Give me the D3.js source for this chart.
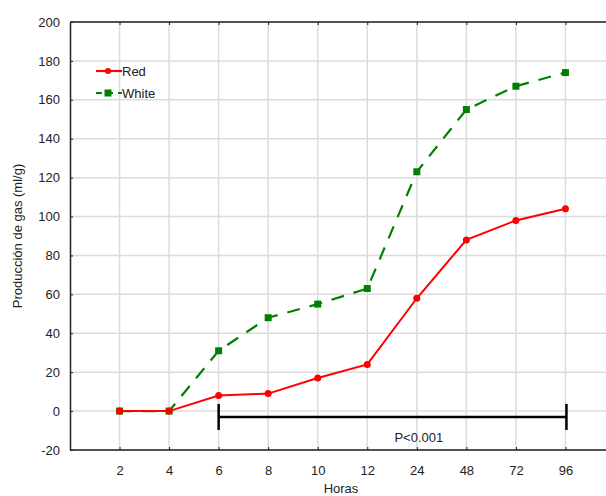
<!DOCTYPE html>
<html>
<head>
<meta charset="utf-8">
<script src="https://cdn.jsdelivr.net/npm/d3@7"></script>
<style>
  body { margin: 0; background: #fff; }
  text { font-family: "Liberation Sans", Arial, sans-serif; fill: #222; }
</style>
</head>
<body>
<div id="chart"></div>
<script>
// Data
const hours = ["2", "4", "6", "8", "10", "12", "24", "48", "72", "96"];
const redValues = [0, 0, 8, 9, 17, 24, 58, 88, 98, 104];
const whiteValues = [0, 0, 31, 48, 55, 63, 123, 155, 167, 174];
const yTicks = [-20, 0, 20, 40, 60, 80, 100, 120, 140, 160, 180, 200];
const bracket = { from: "6", to: "96", level: -3, label: "P<0.001", labelAt: "24" };

// Dimensions
const W = 606, H = 496;
const margin = { top: 22, left: 70, bottom: 46 };

const svg = d3.select("#chart")
    .append("svg")
    .attr("width", W)
    .attr("height", H);

// Scales
const x = d3.scalePoint()
    .domain(hours)
    .range([margin.left, margin.left + 545])
    .padding(1);

const y = d3.scaleLinear()
    .domain([-20, 200])
    .range([H - margin.bottom, margin.top]);

// Grid
svg.append("g")
    .selectAll("line")
    .data(yTicks)
    .join("line")
    .attr("x1", margin.left)
    .attr("x2", W)
    .attr("y1", d => y(d))
    .attr("y2", d => y(d))
    .attr("stroke", "#dcdcdc")
    .attr("stroke-width", 1.5);

svg.append("g")
    .selectAll("line")
    .data(hours)
    .join("line")
    .attr("x1", d => x(d))
    .attr("x2", d => x(d))
    .attr("y1", y(200))
    .attr("y2", y(-20))
    .attr("stroke", "#dcdcdc")
    .attr("stroke-width", 1.5);

// Axes
const yAxis = svg.append("g")
    .attr("transform", `translate(${margin.left},0)`)
    .call(d3.axisLeft(y).tickValues(yTicks).tickFormat(d => String(d))
        .tickSizeInner(-3).tickSizeOuter(0).tickPadding(10));
yAxis.select(".domain").attr("stroke", "#222").attr("stroke-width", 1.5);
yAxis.selectAll("text").style("font-size", "13px");
yAxis.selectAll(".tick line").attr("stroke", "#222");

const xAxis = svg.append("g")
    .attr("transform", `translate(0,${y(-20)})`)
    .call(d3.axisBottom(x).tickSizeInner(-3).tickSizeOuter(0).tickPadding(16));
xAxis.select(".domain").attr("d", `M${margin.left},0H${W}`).attr("stroke", "#222").attr("stroke-width", 1.5);
xAxis.selectAll("text").style("font-size", "13px");
xAxis.selectAll(".tick line").attr("stroke", "#222");

// Top border
const topAxis = svg.append("g")
    .attr("transform", `translate(0,${y(200)})`)
    .call(d3.axisTop(x).tickSizeInner(-3).tickSizeOuter(0).tickFormat(""));
topAxis.select(".domain").attr("d", `M${margin.left},0H${W}`).attr("stroke", "#222").attr("stroke-width", 1.5);
topAxis.selectAll(".tick line").attr("stroke", "#222");

// Axis titles
svg.append("text")
    .attr("x", (margin.left + W) / 2 + 3)
    .attr("y", H - 3)
    .attr("text-anchor", "middle")
    .style("font-size", "13px")
    .text("Horas");

svg.append("text")
    .attr("transform", `translate(22,${(y(200) + y(-20)) / 2}) rotate(-90)`)
    .attr("text-anchor", "middle")
    .style("font-size", "13px")
    .text("Producción de gas (ml/g)");

// Lines
const line = d3.line()
    .x((d, i) => x(hours[i]))
    .y(d => y(d));

svg.append("path")
    .datum(whiteValues)
    .attr("fill", "none")
    .attr("stroke", "#008000")
    .attr("stroke-width", 2.2)
    .attr("stroke-dasharray", "13,10")
    .attr("d", line);

svg.append("g")
    .selectAll("rect")
    .data(whiteValues)
    .join("rect")
    .attr("x", (d, i) => x(hours[i]) - 3.5)
    .attr("y", d => y(d) - 3.5)
    .attr("width", 7)
    .attr("height", 7)
    .attr("fill", "#008000");

svg.append("path")
    .datum(redValues)
    .attr("fill", "none")
    .attr("stroke", "#ff0000")
    .attr("stroke-width", 2)
    .attr("d", line);

svg.append("g")
    .selectAll("circle")
    .data(redValues)
    .join("circle")
    .attr("cx", (d, i) => x(hours[i]))
    .attr("cy", d => y(d))
    .attr("r", 3.5)
    .attr("fill", "#ff0000");

// Significance bracket
const bY = y(bracket.level);
const bk = svg.append("g").attr("stroke", "#000").attr("stroke-width", 2.5);
bk.append("line").attr("x1", x(bracket.from)).attr("x2", x(bracket.to) + 1).attr("y1", bY).attr("y2", bY);
[bracket.from, bracket.to].forEach((h, i) => {
    bk.append("line")
        .attr("x1", x(h) + i).attr("x2", x(h) + i)
        .attr("y1", bY - 13).attr("y2", bY + 13);
});
svg.append("text")
    .attr("x", x(bracket.labelAt) + 2)
    .attr("y", bY + 25)
    .attr("text-anchor", "middle")
    .style("font-size", "13px")
    .text(bracket.label);

// Legend
const legend = [
    { name: "Red", color: "#ff0000", dash: null, shape: "circle" },
    { name: "White", color: "#008000", dash: "6,5", shape: "square" }
];
legend.forEach((d, i) => {
    const g = svg.append("g").attr("transform", `translate(96,${71 + i * 22})`);
    g.append("line")
        .attr("x1", 0).attr("x2", 26)
        .attr("stroke", d.color)
        .attr("stroke-width", 2.2)
        .attr("stroke-dasharray", d.dash);
    if (d.shape === "circle") {
        g.append("circle").attr("cx", 12).attr("r", 3).attr("fill", d.color);
    } else {
        g.append("rect").attr("x", 8.5).attr("y", -3.5).attr("width", 7).attr("height", 7).attr("fill", d.color);
    }
    g.append("text")
        .attr("x", 26)
        .attr("y", 5)
        .style("font-size", "13px")
        .text(d.name);
});
</script>
</body>
</html>
